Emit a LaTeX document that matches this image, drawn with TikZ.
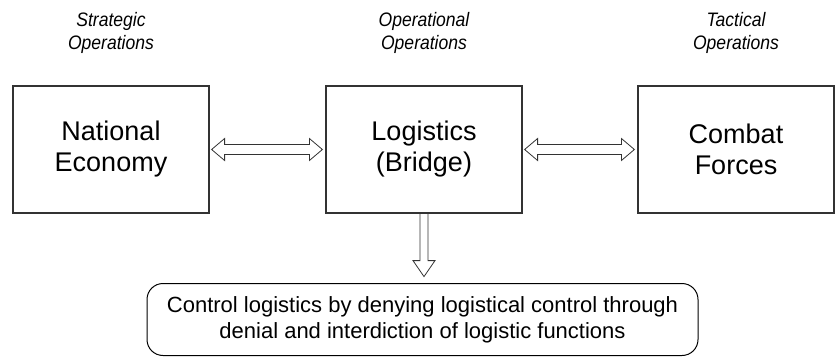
\documentclass[tikz,border=0pt]{standalone}
\usepackage{fontspec}
\setmainfont{Liberation Sans}
\newfontfamily\labfont[FakeStretch=0.9]{Liberation Sans}
\usetikzlibrary{calc}
\begin{document}
\begin{tikzpicture}[x=1pt,y=1pt,
  box/.style={draw=black!80,line width=1.2pt,minimum width=196pt,minimum height=127pt,inner sep=0pt,align=center,font=\fontsize{27}{31}\selectfont},
  lab/.style={align=center,font=\labfont\fontsize{19.5}{23}\selectfont\itshape},
  arr/.style={draw=black!80,line width=0.8pt,line join=miter},
  note/.style={draw=black,line width=1pt,rounded corners=16pt,minimum width=551pt,minimum height=72pt,align=center,font=\fontsize{22}{26}\selectfont}]
\useasboundingbox (0,0) rectangle (835,-356);
\node[box] (ne) at (111,-149.5) {National\\Economy};
\node[box] (lb) at (424,-149.5) {Logistics\\(Bridge)};
\node[box] (cf) at (736,-149.5) {Combat\\Forces};
\node[lab] (l1) at (111,-33) {Strategic\\Operations};
\node[lab] (l2) at (424,-33) {Operational\\Operations};
\node[lab] (l3) at (736,-33) {Tactical\\Operations};
\node[note] (ct) at (422.5,-319.5) {Control logistics by denying logistical control through\\denial and interdiction of logistic functions};
% double arrows
\draw[arr] ($(ne.east)+(2,0)$) -- ++(13,11) -- ++(0,-6) -- ($(lb.west)+(-16,5)$) -- ++(0,6) -- ($(lb.west)+(-3,0)$) -- ++(-13,-11) -- ++(0,6) -- ($(ne.east)+(15,-5)$) -- ++(0,-6) -- cycle;
\draw[arr] ($(lb.east)+(2,0)$) -- ++(13,11) -- ++(0,-6) -- ($(cf.west)+(-16,5)$) -- ++(0,6) -- ($(cf.west)+(-3,0)$) -- ++(-13,-11) -- ++(0,6) -- ($(lb.east)+(15,-5)$) -- ++(0,-6) -- cycle;
% down arrow
\coordinate (tip) at ($(lb.south)+(0,-63)$);
\draw[arr] ($(lb.south)+(-4,0)$) -- ($(tip)+(-4,16)$) -- ++(-7,0) -- (tip) -- ($(tip)+(11,16)$) -- ++(-7,0) -- ($(lb.south)+(4,0)$);
\end{tikzpicture}
\end{document}
